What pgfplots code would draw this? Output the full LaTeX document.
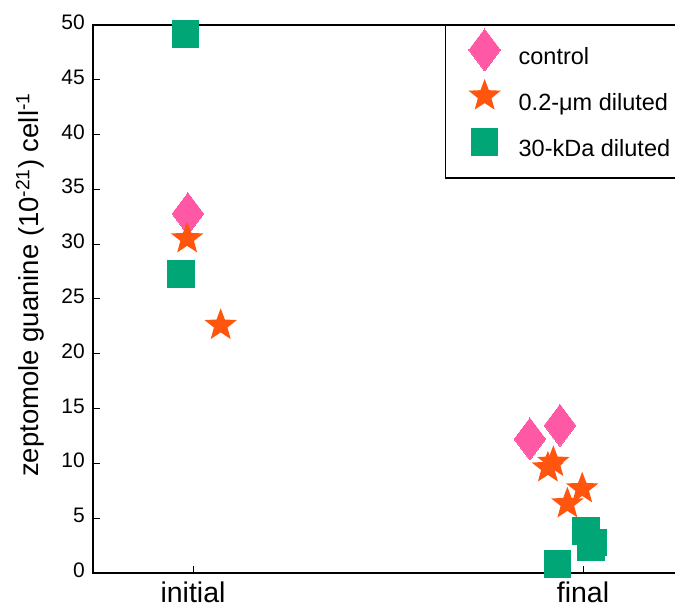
\documentclass[border=0pt]{standalone}
\usepackage{fontspec}
\setmainfont{Liberation Sans}
\usepackage{pgfplots}
\pgfplotsset{compat=1.18}
\definecolor{cpink}{RGB}{255,88,165}
\definecolor{corange}{RGB}{255,85,15}
\definecolor{cgreen}{RGB}{0,166,118}
\pgfdeclareplotmark{fstar}{%
 \pgfpathmoveto{\pgfpointpolar{90}{\pgfplotmarksize}}%
 \pgfpathlineto{\pgfpointpolar{126}{0.42\pgfplotmarksize}}%
 \pgfpathlineto{\pgfpointpolar{162}{\pgfplotmarksize}}%
 \pgfpathlineto{\pgfpointpolar{198}{0.42\pgfplotmarksize}}%
 \pgfpathlineto{\pgfpointpolar{234}{\pgfplotmarksize}}%
 \pgfpathlineto{\pgfpointpolar{270}{0.42\pgfplotmarksize}}%
 \pgfpathlineto{\pgfpointpolar{306}{\pgfplotmarksize}}%
 \pgfpathlineto{\pgfpointpolar{342}{0.42\pgfplotmarksize}}%
 \pgfpathlineto{\pgfpointpolar{18}{\pgfplotmarksize}}%
 \pgfpathlineto{\pgfpointpolar{54}{0.42\pgfplotmarksize}}%
 \pgfpathclose\pgfusepathqfill}
\begin{document}
\begin{tikzpicture}
\useasboundingbox (0,0) rectangle (675pt,608pt);
\clip (0,0) rectangle (675pt,608pt);
\begin{axis}[
 at={(93pt,35pt)}, anchor=south west,
 scale only axis, width=587pt, height=548pt,
 xmin=0.74359, xmax=2.24872, ymin=0, ymax=50,
 xtick={1,2}, xticklabels={initial,final},
 ytick={0,5,...,50},
 xtick pos=bottom, ytick pos=left,
 tick align=inside, major tick length=7pt,
 every tick/.style={black, line width=1pt},
 axis line style={line width=1.3pt},
 /pgf/number format/assume math mode=true,
 yticklabel style={font=\fontsize{21}{21}\selectfont, anchor=base east, inner sep=0pt, xshift=-8pt, yshift=-4.5pt},
 xticklabel style={font=\fontsize{28.5}{28.5}\selectfont, anchor=base, inner sep=0pt, yshift=-30pt},
 ylabel={zeptomole guanine (10\textsuperscript{-21}) cell\textsuperscript{-1}},
 ylabel style={font=\fontsize{27.5}{27.5}\selectfont, at={(axis description cs:-0.1073,0.5255)}, anchor=center},
 clip=false, axis on top,
 legend style={at={(axis description cs:0.59966,1)}, anchor=north west, draw=black, line width=1.3pt, inner xsep=19pt, inner ysep=17pt, font=\fontsize{23.5}{23.5}\selectfont, nodes={inner sep=0pt, text height=16pt, text depth=5pt}, row sep=19.5pt},
 legend cell align=left,
 legend image code/.code={\path[draw=none,fill=none] (0pt,-5pt) rectangle (54pt,16pt); \draw[#1, overlay, mark repeat=2, mark phase=2] plot coordinates {(0pt,8.7pt)(20pt,8.7pt)(40pt,8.7pt)};},
]
\addplot[only marks, mark=diamond*, mark size=21pt, color=cpink, mark options={line width=0pt}] coordinates {
 (0.987,32.78) (1.864,12.23) (1.941,13.47)
};
\addlegendentry{control}
\addplot[only marks, mark=fstar, mark size=17pt, color=corange] coordinates {
 (0.985,30.5) (1.071,22.6) (1.910,9.6) (1.924,10.1) (1.998,7.69) (1.960,6.32)
};
\addlegendentry{0.2-μm diluted}
\addplot[only marks, mark=square*, mark size=13.3pt, color=cgreen, mark options={line width=0pt}] coordinates {
 (0.981,49.18) (0.969,27.26) (2.008,3.83) (2.027,2.77) (2.021,2.31) (1.935,0.82)
};
\addlegendentry{30-kDa diluted}
\end{axis}
\end{tikzpicture}
\end{document}
